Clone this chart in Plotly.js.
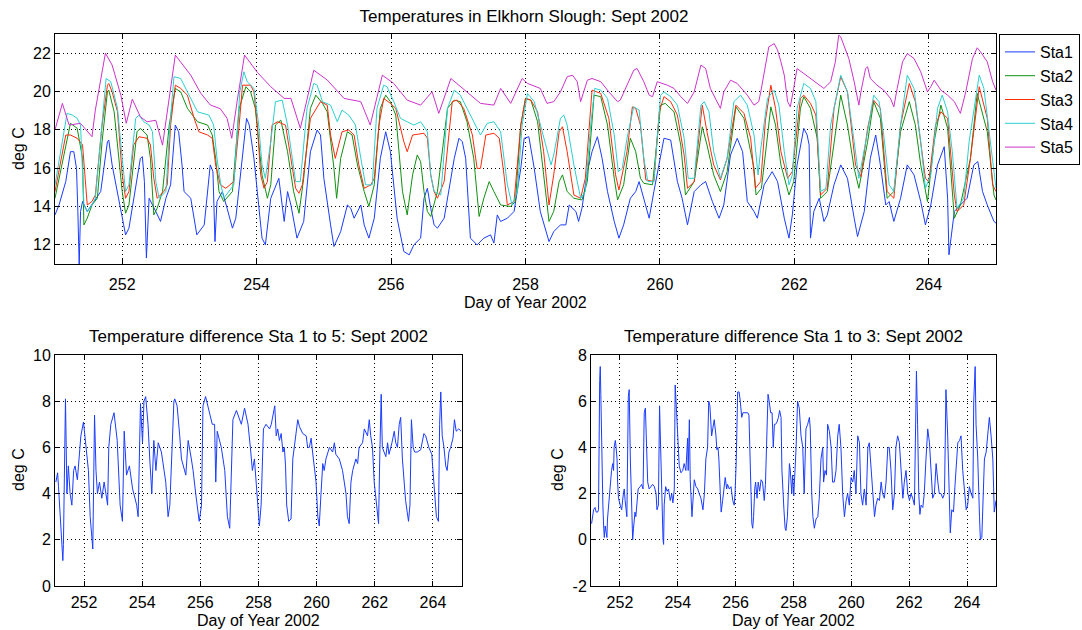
<!DOCTYPE html>
<html>
<head>
<meta charset="utf-8">
<script src="https://cdn.plot.ly/plotly-3.0.1.min.js"></script>
<style>html,body{margin:0;padding:0;background:#fff;}#chart{width:1082px;height:630px;}</style>
</head>
<body>
<div id="chart"></div>
<script>
// ---- Data: [day of year, value] ----
const seriesNames = ["Sta1", "Sta2", "Sta3", "Sta4", "Sta5"];
const seriesColors = ["#1a3cff", "#119011", "#ff2a0a", "#2ccfcf", "#cc33cc"];

const sta1 = [[251.00,13.56],[251.06,14.08],[251.16,15.3],[251.23,16.86],[251.28,16.86],[251.32,15.99],[251.34,13.74],[251.36,10.96],[251.38,13.74],[251.41,14.26],[251.48,13.74],[251.58,14.26],[251.68,14.78],[251.78,17.38],[251.80,17.47],[251.85,16.17],[251.95,14.26],[252.05,12.52],[252.10,12.87],[252.20,15.13],[252.27,16.51],[252.30,16.6],[252.33,15.3],[252.36,11.31],[252.40,14.43],[252.50,13.74],[252.57,13.22],[252.65,14.43],[252.72,15.13],[252.79,18.25],[252.84,17.9],[252.89,16.17],[252.92,14.78],[253.02,14.43],[253.11,12.52],[253.22,13.04],[253.27,14.78],[253.31,16.17],[253.35,15.82],[253.38,12.17],[253.41,14.26],[253.49,14.78],[253.56,13.91],[253.64,12.87],[253.69,13.39],[253.76,15.65],[253.85,18.6],[253.89,18.25],[253.96,16.51],[254.01,14.78],[254.08,12.35],[254.13,12.0],[254.21,14.43],[254.33,15.47],[254.41,13.22],[254.46,14.78],[254.51,14.08],[254.60,12.35],[254.70,13.22],[254.80,16.86],[254.90,17.99],[254.95,17.73],[255.00,15.47],[255.10,13.04],[255.15,11.91],[255.25,12.69],[255.35,14.08],[255.40,13.91],[255.45,13.39],[255.55,14.08],[255.60,13.04],[255.67,12.35],[255.75,13.39],[255.84,16.51],[255.92,17.9],[255.99,16.86],[256.09,13.39],[256.19,11.65],[256.27,11.48],[256.34,12.0],[256.44,12.35],[256.49,14.43],[256.54,14.95],[256.59,13.91],[256.64,13.04],[256.69,12.87],[256.79,13.39],[256.94,16.51],[257.01,17.56],[257.06,17.38],[257.11,16.51],[257.18,12.35],[257.28,12.0],[257.38,12.35],[257.48,12.52],[257.53,12.09],[257.58,13.56],[257.63,13.22],[257.73,13.39],[257.83,13.74],[257.93,15.99],[257.98,17.56],[258.05,17.64],[258.13,15.99],[258.22,13.74],[258.35,12.17],[258.42,12.69],[258.52,13.04],[258.60,13.04],[258.65,14.08],[258.75,13.74],[258.79,13.22],[258.84,13.91],[258.92,15.82],[258.99,16.86],[259.07,17.64],[259.14,16.51],[259.22,14.78],[259.32,13.22],[259.39,12.35],[259.46,13.04],[259.56,14.43],[259.64,14.78],[259.69,15.3],[259.76,14.43],[259.84,13.39],[259.91,14.78],[260.06,17.56],[260.16,17.47],[260.26,15.3],[260.33,14.43],[260.41,13.04],[260.51,14.78],[260.61,15.13],[260.68,15.3],[260.78,14.26],[260.88,13.39],[260.95,14.08],[261.05,16.69],[261.15,17.56],[261.23,16.86],[261.30,14.26],[261.40,13.74],[261.45,13.39],[261.55,15.13],[261.67,15.82],[261.75,15.3],[261.85,13.39],[261.92,12.35],[261.97,13.56],[262.04,16.17],[262.14,18.08],[262.19,17.73],[262.22,17.21],[262.24,12.35],[262.29,13.74],[262.37,14.43],[262.44,13.22],[262.49,13.56],[262.59,15.13],[262.69,16.17],[262.79,15.47],[262.89,13.39],[262.94,12.43],[263.04,13.74],[263.13,16.51],[263.21,17.73],[263.28,16.17],[263.36,14.08],[263.41,14.26],[263.48,13.22],[263.58,14.43],[263.68,16.17],[263.78,15.65],[263.88,14.26],[263.95,13.04],[264.03,14.08],[264.13,16.17],[264.23,17.12],[264.28,14.43],[264.30,11.48],[264.38,13.74],[264.47,14.08],[264.57,14.43],[264.67,16.17],[264.73,16.34],[264.80,14.78],[264.87,14.08],[264.97,13.22],[265.00,13.13]];

const sta2 = [[251.00,14.43],[251.23,18.34],[251.33,18.08],[251.41,16.51],[251.43,13.04],[251.48,13.39],[251.55,14.08],[251.63,14.43],[251.70,17.38],[251.78,19.98],[251.80,20.07],[251.88,18.94],[252.00,14.78],[252.05,13.65],[252.10,14.08],[252.22,17.9],[252.27,18.08],[252.37,17.73],[252.42,16.51],[252.47,13.56],[252.52,13.91],[252.60,14.78],[252.70,18.25],[252.79,20.16],[252.87,19.98],[252.97,19.12],[253.12,18.42],[253.27,18.25],[253.34,17.73],[253.39,16.51],[253.44,14.78],[253.51,14.26],[253.64,14.78],[253.74,19.12],[253.84,20.25],[253.91,19.98],[253.98,19.12],[254.03,17.38],[254.08,15.65],[254.16,14.43],[254.21,15.13],[254.28,18.25],[254.36,18.51],[254.46,16.86],[254.55,14.78],[254.63,13.65],[254.70,15.47],[254.80,19.12],[254.88,19.81],[254.98,19.38],[255.05,18.94],[255.15,15.99],[255.19,14.43],[255.25,16.51],[255.35,17.9],[255.42,17.73],[255.50,16.17],[255.60,14.78],[255.67,14.0],[255.75,15.13],[255.84,19.12],[255.92,19.81],[255.99,19.47],[256.07,18.77],[256.17,14.78],[256.24,13.56],[256.32,15.65],[256.39,16.69],[256.44,16.34],[256.49,14.78],[256.54,13.74],[256.59,13.48],[256.69,14.78],[256.84,19.12],[256.94,19.55],[257.03,19.47],[257.13,18.42],[257.23,16.51],[257.31,13.48],[257.38,14.43],[257.46,15.3],[257.53,14.78],[257.63,14.08],[257.78,14.0],[257.85,14.26],[257.93,18.25],[258.00,19.64],[258.08,19.55],[258.18,18.42],[258.27,15.65],[258.35,13.22],[258.42,13.74],[258.50,15.3],[258.55,15.65],[258.62,14.78],[258.72,14.43],[258.84,14.34],[258.92,15.3],[259.02,19.81],[259.12,19.73],[259.22,18.25],[259.32,15.47],[259.37,14.34],[259.46,15.13],[259.56,17.56],[259.64,16.86],[259.71,15.47],[259.76,15.21],[259.89,15.13],[260.01,19.29],[260.08,19.38],[260.21,18.94],[260.31,17.21],[260.38,14.6],[260.51,15.3],[260.63,18.16],[260.70,17.21],[260.80,15.65],[260.90,14.78],[261.00,15.82],[261.13,19.2],[261.25,18.6],[261.40,15.99],[261.43,14.6],[261.51,14.95],[261.65,19.2],[261.72,18.25],[261.80,16.17],[261.92,14.6],[261.99,15.3],[262.09,19.12],[262.14,19.73],[262.24,19.12],[262.34,17.56],[262.39,14.43],[262.49,14.78],[262.59,17.38],[262.69,19.81],[262.79,18.25],[262.89,15.99],[262.96,14.95],[263.09,17.38],[263.18,19.47],[263.28,18.6],[263.38,14.43],[263.48,14.78],[263.58,17.9],[263.71,19.47],[263.80,18.25],[263.88,16.17],[263.98,14.26],[264.08,17.38],[264.18,19.29],[264.28,18.08],[264.38,13.39],[264.47,14.08],[264.62,16.51],[264.72,19.9],[264.87,17.9],[264.97,14.6],[265.00,14.34]];

const sta3 = [[251.00,14.78],[251.16,17.73],[251.23,17.73],[251.33,17.56],[251.41,17.21],[251.44,15.65],[251.48,14.08],[251.55,14.26],[251.60,14.6],[251.70,18.25],[251.78,20.33],[251.80,20.42],[251.85,19.98],[251.93,18.94],[252.00,15.65],[252.05,14.43],[252.10,14.78],[252.17,17.21],[252.25,17.64],[252.37,17.56],[252.42,17.21],[252.47,15.47],[252.52,14.43],[252.62,14.78],[252.67,15.13],[252.72,18.25],[252.79,20.33],[252.87,20.16],[252.97,19.81],[253.07,18.6],[253.14,17.9],[253.27,17.73],[253.34,17.56],[253.39,16.17],[253.46,15.13],[253.54,14.95],[253.66,15.3],[253.74,18.25],[253.79,20.33],[253.91,20.33],[253.96,19.98],[254.01,18.25],[254.06,15.65],[254.11,14.95],[254.16,15.3],[254.23,18.25],[254.31,18.42],[254.43,18.25],[254.51,16.51],[254.58,14.95],[254.63,14.69],[254.68,15.13],[254.80,18.6],[254.95,19.47],[255.05,19.29],[255.10,17.73],[255.17,16.51],[255.27,17.9],[255.37,17.99],[255.45,17.73],[255.52,16.17],[255.60,14.95],[255.70,15.13],[255.75,15.47],[255.82,18.25],[255.89,19.64],[255.99,19.38],[256.07,19.12],[256.19,17.38],[256.24,16.86],[256.32,17.73],[256.49,17.82],[256.54,17.56],[256.59,15.65],[256.64,14.78],[256.69,14.43],[256.79,15.3],[256.91,19.47],[256.98,19.55],[257.08,19.12],[257.21,17.73],[257.28,15.99],[257.33,15.99],[257.41,17.73],[257.53,17.82],[257.61,17.56],[257.68,15.65],[257.73,14.08],[257.83,14.26],[257.93,18.25],[258.00,19.64],[258.08,19.55],[258.18,18.94],[258.27,16.86],[258.35,14.08],[258.42,15.65],[258.50,17.9],[258.55,18.16],[258.62,16.86],[258.72,14.6],[258.82,14.43],[258.89,15.47],[258.99,20.07],[259.12,19.9],[259.24,18.6],[259.34,15.65],[259.39,14.86],[259.51,16.86],[259.59,19.2],[259.64,19.12],[259.71,18.25],[259.79,15.39],[259.91,15.3],[259.99,18.94],[260.06,19.73],[260.16,19.47],[260.26,18.77],[260.36,16.69],[260.41,14.95],[260.51,15.3],[260.63,19.29],[260.70,17.9],[260.80,16.17],[260.90,15.39],[261.00,16.51],[261.13,19.29],[261.25,18.86],[261.35,17.56],[261.42,14.95],[261.50,15.3],[261.57,18.5],[261.65,20.33],[261.72,19.12],[261.80,16.86],[261.90,15.47],[261.97,15.82],[262.09,19.64],[262.14,19.81],[262.24,19.38],[262.32,18.77],[262.39,14.6],[262.49,14.95],[262.59,19.12],[262.69,20.77],[262.79,19.98],[262.91,16.17],[262.99,15.56],[263.09,18.08],[263.18,19.55],[263.28,19.12],[263.38,14.78],[263.48,14.43],[263.58,18.25],[263.71,20.42],[263.80,19.47],[263.88,17.38],[263.95,15.47],[264.00,15.3],[264.10,18.25],[264.18,18.94],[264.28,18.6],[264.38,14.6],[264.42,13.74],[264.52,14.08],[264.62,16.51],[264.75,20.25],[264.87,18.6],[264.95,15.13],[265.00,14.78]];

const sta4 = [[251.00,15.13],[251.18,18.86],[251.26,18.77],[251.33,18.6],[251.38,18.25],[251.43,14.08],[251.48,13.74],[251.55,14.08],[251.60,14.43],[251.68,17.38],[251.76,20.68],[251.83,20.51],[251.93,19.12],[252.00,16.51],[252.05,14.78],[252.10,15.13],[252.20,18.6],[252.25,18.77],[252.32,18.42],[252.40,18.25],[252.45,17.9],[252.50,15.3],[252.55,14.43],[252.65,14.78],[252.71,18.25],[252.77,20.77],[252.87,20.68],[252.97,19.98],[253.12,18.94],[253.29,18.77],[253.36,18.25],[253.41,16.51],[253.46,15.3],[253.51,14.43],[253.66,15.13],[253.75,19.98],[253.81,21.03],[253.86,20.51],[253.96,20.16],[254.03,18.25],[254.08,16.17],[254.13,15.47],[254.21,17.38],[254.28,19.47],[254.38,19.55],[254.46,18.25],[254.58,15.3],[254.65,15.3],[254.75,19.12],[254.85,20.42],[254.90,20.33],[254.98,19.47],[255.10,19.29],[255.20,18.42],[255.27,19.03],[255.37,18.77],[255.47,18.25],[255.55,16.51],[255.62,15.13],[255.72,15.13],[255.79,19.12],[255.89,20.33],[255.94,20.25],[256.04,19.47],[256.14,18.6],[256.24,18.42],[256.34,18.25],[256.44,18.42],[256.54,17.9],[256.59,15.65],[256.64,14.78],[256.74,14.6],[256.84,19.12],[256.94,20.07],[257.03,19.81],[257.13,19.12],[257.23,18.42],[257.33,17.73],[257.43,18.34],[257.53,18.42],[257.63,17.9],[257.73,15.13],[257.80,14.08],[257.88,14.78],[257.95,18.25],[258.03,19.9],[258.13,19.47],[258.22,18.25],[258.32,16.86],[258.38,16.17],[258.42,16.69],[258.52,18.6],[258.57,18.77],[258.62,18.25],[258.72,16.17],[258.82,14.43],[258.89,14.78],[258.97,18.25],[259.03,20.16],[259.12,20.07],[259.22,19.64],[259.32,17.73],[259.38,15.82],[259.44,15.99],[259.51,17.56],[259.61,19.2],[259.69,19.03],[259.76,16.51],[259.82,15.3],[259.91,15.3],[260.01,19.81],[260.06,19.98],[260.16,19.73],[260.26,19.29],[260.36,17.56],[260.42,15.47],[260.51,15.47],[260.61,19.29],[260.66,19.47],[260.73,18.94],[260.80,16.86],[260.90,15.47],[261.00,16.51],[261.10,19.47],[261.20,19.81],[261.30,19.29],[261.40,17.73],[261.46,15.65],[261.50,17.0],[261.60,19.64],[261.70,20.07],[261.77,19.29],[261.85,16.86],[261.92,15.13],[261.97,15.65],[262.04,19.12],[262.14,20.42],[262.24,20.16],[262.32,19.47],[262.39,14.78],[262.47,14.95],[262.54,18.25],[262.69,20.85],[262.79,19.98],[262.89,17.38],[262.96,15.47],[263.09,17.9],[263.18,19.81],[263.26,19.47],[263.33,17.73],[263.41,15.13],[263.48,14.78],[263.58,18.25],[263.68,20.85],[263.78,20.16],[263.88,17.38],[263.95,14.95],[264.03,15.65],[264.13,19.12],[264.20,19.81],[264.28,18.94],[264.35,16.86],[264.42,13.91],[264.52,14.43],[264.60,17.38],[264.75,20.85],[264.82,20.16],[264.92,17.21],[265.00,14.95]];

const sta5 = [[251.00,18.0],[251.11,19.38],[251.21,18.25],[251.38,18.34],[251.55,17.64],[251.60,19.03],[251.75,22.0],[251.85,21.38],[251.98,19.8],[252.06,18.34],[252.15,19.6],[252.27,18.68],[252.37,18.42],[252.50,18.5],[252.60,17.2],[252.67,18.94],[252.79,21.9],[253.02,20.85],[253.17,19.9],[253.31,19.3],[253.46,19.1],[253.56,18.6],[253.63,17.56],[253.71,19.5],[253.82,21.9],[254.01,21.0],[254.21,20.25],[254.41,19.64],[254.51,19.64],[254.65,18.08],[254.85,21.11],[255.05,20.6],[255.30,19.64],[255.55,19.47],[255.69,18.25],[255.87,20.85],[256.04,20.42],[256.24,19.55],[256.44,19.29],[256.61,19.99],[256.71,18.86],[256.89,20.68],[257.06,20.16],[257.33,19.38],[257.53,19.29],[257.63,20.16],[257.78,19.38],[257.95,20.68],[258.03,20.42],[258.22,20.16],[258.32,19.38],[258.42,19.47],[258.52,19.98],[258.62,20.77],[258.70,20.85],[258.77,20.51],[258.82,19.47],[258.92,20.59],[258.99,20.68],[259.12,20.51],[259.24,19.98],[259.37,19.47],[259.41,19.55],[259.51,20.33],[259.61,21.11],[259.66,21.2],[259.76,20.51],[259.84,19.81],[259.89,19.73],[259.96,20.51],[260.11,20.33],[260.21,20.16],[260.31,19.73],[260.41,19.38],[260.51,19.98],[260.61,21.38],[260.68,21.2],[260.75,20.16],[260.85,19.47],[260.90,19.12],[260.95,19.98],[261.05,20.59],[261.15,20.42],[261.30,19.81],[261.40,19.29],[261.47,19.47],[261.50,19.98],[261.62,22.33],[261.70,22.5],[261.75,22.16],[261.80,21.55],[261.85,20.85],[261.90,19.47],[261.94,19.2],[261.99,20.16],[262.04,21.2],[262.14,20.94],[262.24,20.68],[262.34,20.42],[262.44,20.16],[262.49,20.33],[262.54,20.51],[262.61,21.55],[262.66,22.94],[262.69,22.85],[262.74,22.42],[262.81,21.72],[262.89,20.51],[262.96,19.29],[262.99,19.98],[263.06,21.2],[263.09,21.29],[263.13,20.68],[263.23,20.33],[263.33,20.07],[263.43,19.64],[263.48,19.2],[263.53,20.16],[263.61,21.55],[263.68,21.98],[263.78,21.72],[263.88,21.03],[263.98,19.98],[264.03,20.25],[264.08,20.59],[264.18,20.07],[264.28,19.81],[264.38,19.47],[264.47,18.86],[264.55,19.98],[264.65,21.72],[264.72,22.28],[264.77,22.07],[264.87,21.55],[264.95,20.51],[265.00,20.07]];

const diff15 = [[251.03,4.5],[251.09,4.9],[251.12,4.3],[251.16,3.5],[251.20,2.3],[251.24,1.6],[251.27,1.1],[251.29,1.8],[251.33,7.4],[251.36,8.1],[251.41,4.0],[251.46,5.2],[251.52,4.0],[251.58,3.5],[251.64,5.0],[251.69,5.2],[251.77,4.6],[251.84,5.8],[251.89,6.5],[251.98,7.1],[252.07,6.0],[252.15,5.0],[252.21,3.0],[252.26,2.2],[252.30,1.6],[252.36,7.4],[252.41,5.0],[252.46,4.0],[252.53,4.5],[252.61,3.8],[252.69,4.5],[252.81,3.5],[252.85,6.0],[252.92,7.0],[253.03,7.5],[253.14,6.3],[253.24,3.5],[253.32,2.8],[253.38,6.7],[253.46,4.8],[253.56,5.2],[253.67,4.2],[253.81,3.5],[253.86,3.0],[253.90,5.5],[253.94,7.9],[254.01,6.2],[254.06,8.0],[254.12,8.2],[254.20,7.0],[254.26,5.5],[254.33,4.0],[254.40,6.3],[254.47,5.0],[254.55,6.2],[254.66,5.8],[254.81,4.5],[254.89,3.0],[254.95,3.5],[255.01,5.3],[255.04,6.8],[255.09,8.0],[255.12,8.1],[255.20,7.8],[255.29,6.5],[255.35,5.5],[255.50,4.8],[255.58,6.3],[255.69,5.5],[255.75,5.0],[255.84,4.0],[255.96,2.8],[256.04,3.5],[256.09,7.8],[256.18,8.2],[256.32,7.5],[256.41,7.0],[256.49,7.0],[256.53,4.5],[256.58,6.7],[256.72,6.0],[256.84,5.0],[256.93,3.0],[257.01,2.5],[257.06,5.0],[257.12,7.2],[257.24,7.6],[257.41,7.0],[257.52,7.7],[257.64,7.0],[257.72,6.0],[257.79,5.0],[257.86,5.5],[257.94,4.0],[258.03,2.6],[258.09,3.5],[258.13,5.8],[258.17,6.8],[258.26,7.0],[258.38,6.8],[258.44,7.0],[258.52,7.5],[258.56,7.8],[258.61,6.5],[258.66,6.8],[258.72,6.3],[258.78,6.6],[258.84,5.8],[258.89,6.0],[258.93,5.2],[258.97,3.5],[259.04,2.8],[259.12,2.9],[259.18,5.5],[259.29,6.7],[259.35,7.2],[259.41,6.9],[259.52,6.6],[259.64,6.5],[259.69,6.0],[259.75,6.0],[259.81,6.4],[259.86,5.8],[259.92,5.0],[259.98,4.5],[260.04,3.0],[260.09,2.6],[260.15,4.0],[260.21,5.3],[260.26,5.0],[260.32,5.5],[260.44,6.0],[260.55,5.8],[260.61,6.2],[260.66,5.7],[260.78,5.5],[260.89,5.0],[261.01,4.0],[261.06,3.0],[261.12,2.7],[261.18,4.5],[261.24,5.0],[261.35,5.5],[261.41,5.3],[261.46,6.0],[261.58,6.2],[261.64,6.8],[261.75,6.5],[261.81,7.2],[261.86,6.5],[261.92,6.0],[261.98,4.5],[262.07,3.2],[262.13,2.7],[262.17,5.5],[262.22,8.3],[262.26,6.0],[262.32,5.8],[262.38,5.6],[262.44,6.2],[262.49,5.7],[262.59,6.2],[262.67,6.7],[262.72,6.2],[262.78,6.0],[262.84,7.0],[262.89,7.3],[262.95,5.5],[263.01,4.5],[263.06,3.7],[263.16,2.8],[263.21,3.5],[263.26,7.2],[263.32,6.0],[263.37,5.8],[263.46,5.8],[263.58,5.9],[263.69,6.6],[263.75,6.5],[263.86,6.0],[263.96,5.7],[264.04,4.5],[264.12,3.0],[264.19,2.8],[264.23,7.0],[264.27,8.4],[264.32,6.5],[264.38,6.0],[264.44,5.2],[264.49,5.0],[264.55,5.8],[264.61,6.0],[264.69,6.4],[264.74,7.2],[264.80,6.7],[264.89,6.8],[264.97,6.7]];

const diff13 = [[251.02,0.7],[251.05,0.9],[251.09,1.3],[251.14,1.4],[251.18,1.2],[251.23,1.2],[251.26,1.3],[251.30,6.9],[251.32,7.5],[251.34,6.3],[251.38,3.0],[251.41,1.5],[251.44,0.5],[251.46,0.1],[251.49,0.6],[251.52,0.3],[251.55,0.1],[251.57,0.9],[251.63,2.0],[251.67,2.5],[251.71,3.0],[251.75,3.3],[251.78,3.0],[251.80,4.0],[251.84,4.3],[251.86,4.1],[251.90,3.5],[251.92,2.5],[251.95,1.8],[252.01,1.5],[252.06,1.3],[252.12,2.0],[252.15,2.2],[252.18,1.7],[252.24,1.0],[252.29,6.2],[252.32,6.5],[252.36,3.5],[252.40,1.5],[252.44,0.0],[252.47,0.5],[252.52,1.2],[252.55,1.0],[252.59,1.8],[252.63,2.2],[252.70,2.3],[252.75,2.4],[252.80,2.2],[252.84,5.5],[252.88,5.7],[252.91,4.0],[252.96,2.5],[253.01,2.2],[253.07,2.3],[253.13,2.4],[253.19,2.3],[253.25,2.0],[253.28,1.3],[253.33,1.5],[253.37,5.8],[253.42,3.0],[253.45,1.2],[253.49,0.0],[253.51,-0.2],[253.53,1.5],[253.58,2.3],[253.63,2.1],[253.68,2.2],[253.74,1.7],[253.79,2.0],[253.83,1.6],[253.88,2.2],[253.91,6.7],[253.96,5.5],[254.01,4.5],[254.05,3.2],[254.11,2.9],[254.17,3.0],[254.22,3.3],[254.28,3.0],[254.34,4.4],[254.36,3.0],[254.40,5.2],[254.43,2.6],[254.49,1.0],[254.54,2.0],[254.57,2.6],[254.63,2.3],[254.69,2.2],[254.74,2.0],[254.80,1.8],[254.87,1.3],[254.92,2.0],[254.97,3.5],[255.03,4.0],[255.07,6.0],[255.11,5.8],[255.17,4.5],[255.22,5.0],[255.26,5.2],[255.32,4.5],[255.35,3.9],[255.39,4.0],[255.42,3.5],[255.47,2.0],[255.50,1.2],[255.55,1.7],[255.61,2.3],[255.64,2.7],[255.69,2.2],[255.72,2.4],[255.78,2.2],[255.84,2.3],[255.90,1.7],[255.95,1.5],[255.98,2.0],[256.02,3.4],[256.07,6.4],[256.12,6.4],[256.16,6.0],[256.21,5.3],[256.25,5.5],[256.30,5.5],[256.36,5.5],[256.42,5.5],[256.46,5.4],[256.50,3.0],[256.53,1.8],[256.56,0.7],[256.59,0.5],[256.62,1.0],[256.66,2.2],[256.69,2.5],[256.74,1.8],[256.78,2.5],[256.83,2.1],[256.88,2.6],[256.93,2.5],[256.99,1.7],[257.03,2.4],[257.07,4.0],[257.12,6.3],[257.16,6.0],[257.21,5.5],[257.26,5.5],[257.30,4.0],[257.34,5.0],[257.38,5.0],[257.43,5.1],[257.48,5.3],[257.52,5.6],[257.57,5.3],[257.60,3.0],[257.64,1.7],[257.67,1.3],[257.71,0.5],[257.74,0.4],[257.79,1.0],[257.82,2.0],[257.86,3.3],[257.89,3.0],[257.94,2.0],[257.97,2.8],[258.01,1.9],[258.09,4.0],[258.14,6.0],[258.20,5.7],[258.26,4.5],[258.32,4.0],[258.37,2.0],[258.43,4.8],[258.49,5.0],[258.55,5.3],[258.58,4.8],[258.63,2.0],[258.67,1.0],[258.72,0.5],[258.78,0.9],[258.84,1.0],[258.89,1.8],[258.95,3.5],[259.01,4.0],[259.04,2.5],[259.09,3.0],[259.14,2.8],[259.18,5.0],[259.24,4.7],[259.30,4.0],[259.35,2.5],[259.41,2.5],[259.47,3.0],[259.53,4.5],[259.58,5.0],[259.64,4.0],[259.70,2.0],[259.76,1.0],[259.82,1.7],[259.87,2.0],[259.93,1.5],[259.99,2.7],[260.05,2.5],[260.10,3.0],[260.16,2.0],[260.22,4.5],[260.28,4.2],[260.33,2.0],[260.39,1.5],[260.45,2.2],[260.51,1.5],[260.57,4.0],[260.62,4.2],[260.68,3.0],[260.74,2.0],[260.80,1.0],[260.85,1.5],[260.91,1.8],[260.97,1.7],[261.03,2.5],[261.08,2.0],[261.14,1.8],[261.20,2.5],[261.26,4.0],[261.31,4.0],[261.37,3.0],[261.43,1.3],[261.49,2.0],[261.54,4.0],[261.60,4.5],[261.66,4.2],[261.72,3.2],[261.78,1.8],[261.83,2.5],[261.89,3.0],[261.95,2.0],[262.01,1.7],[262.06,2.0],[262.12,1.8],[262.18,1.5],[262.21,4.0],[262.25,7.3],[262.29,5.0],[262.33,2.0],[262.37,1.1],[262.41,1.5],[262.47,1.4],[262.52,2.0],[262.58,3.5],[262.64,4.8],[262.70,4.2],[262.75,3.0],[262.81,1.8],[262.87,2.0],[262.93,3.3],[262.99,2.5],[263.04,2.0],[263.10,2.0],[263.16,1.8],[263.22,2.0],[263.27,6.5],[263.33,4.5],[263.39,2.0],[263.42,0.3],[263.47,1.3],[263.53,1.2],[263.58,2.3],[263.64,3.5],[263.68,4.2],[263.74,4.3],[263.79,4.5],[263.85,3.0],[263.91,2.0],[263.97,1.3],[264.02,1.5],[264.08,2.3],[264.14,2.0],[264.20,1.8],[264.23,6.0],[264.28,7.5],[264.31,5.0],[264.37,3.5],[264.43,1.0],[264.46,0.0],[264.51,0.1],[264.54,1.0],[264.60,3.5],[264.66,3.8],[264.71,4.5],[264.77,5.3],[264.83,4.5],[264.89,3.5],[264.94,1.2],[265.00,1.7]];

const dayTicks = [252, 254, 256, 258, 260, 262, 264];
const tempTicks = [12, 14, 16, 18, 20, 22];
const diff15Ticks = [0, 2, 4, 6, 8, 10];
const diff13Ticks = [-2, 0, 2, 4, 6, 8];

const mainTitle = "Temperatures in Elkhorn Slough: Sept 2002";
const title15 = "Temperature difference Sta 1 to 5: Sept 2002";
const title13 = "Temperature difference Sta 1 to 3: Sept 2002";
const xLabel = "Day of Year 2002";
const yLabel = "deg C";

// ---- Build traces ----
const FONT = "Liberation Sans, Arial, Helvetica, sans-serif";
const topSeries = [sta1, sta2, sta3, sta4, sta5];
const traces = topSeries.map((s, i) => ({
  type: "scatter", mode: "lines", name: seriesNames[i],
  x: s.map(p => p[0]), y: s.map(p => p[1]),
  line: {color: seriesColors[i], width: 1},
  xaxis: "x", yaxis: "y"
}));
traces.push({
  type: "scatter", mode: "lines", showlegend: false,
  x: diff15.map(p => p[0]), y: diff15.map(p => p[1]),
  line: {color: seriesColors[0], width: 1}, xaxis: "x2", yaxis: "y2"
});
traces.push({
  type: "scatter", mode: "lines", showlegend: false,
  x: diff13.map(p => p[0]), y: diff13.map(p => p[1]),
  line: {color: seriesColors[0], width: 1}, xaxis: "x3", yaxis: "y3"
});

function axis(ticksArr, extra) {
  return Object.assign({
    showline: true, linecolor: "#000", linewidth: 1, mirror: "ticks",
    ticks: "inside", ticklen: 5, tickcolor: "#000", tickwidth: 1,
    showgrid: true, gridcolor: "#000", griddash: "1px,3px", gridwidth: 1,
    zeroline: false, tickfont: {family: FONT, size: 16, color: "#000"},
    tickmode: "array", tickvals: ticksArr, ticktext: ticksArr.map(String),
    automargin: false
  }, extra);
}

const W = 1082, H = 630;
const px = v => v / W, py = v => 1 - v / H;

const layout = {
  width: W, height: H,
  margin: {l: 0, r: 0, t: 0, b: 0},
  paper_bgcolor: "#fff", plot_bgcolor: "#fff",
  font: {family: FONT, size: 16, color: "#000"},
  showlegend: true,
  legend: {
    x: px(999), y: py(34), xanchor: "left", yanchor: "top",
    bordercolor: "#000", borderwidth: 1, bgcolor: "#fff",
    font: {family: FONT, size: 16, color: "#000"},
    itemwidth: 30, tracegroupgap: 0
  },
  xaxis: axis(dayTicks, {domain: [px(55), px(996)], range: [251, 265], anchor: "y", ticklabelstandoff: 6}),
  yaxis: axis(tempTicks, {domain: [py(264), py(34)], range: [11, 23], anchor: "x"}),
  xaxis2: axis(dayTicks, {domain: [px(55), px(462)], range: [251, 265], anchor: "y2", ticklabelstandoff: 2}),
  yaxis2: axis(diff15Ticks, {domain: [py(586), py(355)], range: [0, 10], anchor: "x2"}),
  xaxis3: axis(dayTicks, {domain: [px(591), px(996)], range: [251, 265], anchor: "y3", ticklabelstandoff: 2}),
  yaxis3: axis(diff13Ticks, {domain: [py(586), py(355)], range: [-2, 8], anchor: "x3"}),
  title: {text: mainTitle, font: {family: FONT, size: 17, color: "#000"},
          x: px(524), xanchor: "center", y: py(16), yanchor: "middle", xref: "paper", yref: "container"},
  annotations: [
    {text: xLabel, x: px(525), y: py(302), xref: "paper", yref: "paper", showarrow: false, xanchor: "center", yanchor: "middle", font: {size: 16}},
    {text: yLabel, x: px(18), y: py(149), xref: "paper", yref: "paper", showarrow: false, textangle: -90, xanchor: "center", yanchor: "middle", font: {size: 16}},
    {text: title15, x: px(258.5), y: py(336), xref: "paper", yref: "paper", showarrow: false, xanchor: "center", yanchor: "middle", font: {size: 17}},
    {text: title13, x: px(793.5), y: py(336), xref: "paper", yref: "paper", showarrow: false, xanchor: "center", yanchor: "middle", font: {size: 17}},
    {text: xLabel, x: px(258.5), y: py(620), xref: "paper", yref: "paper", showarrow: false, xanchor: "center", yanchor: "middle", font: {size: 16}},
    {text: xLabel, x: px(793.5), y: py(620), xref: "paper", yref: "paper", showarrow: false, xanchor: "center", yanchor: "middle", font: {size: 16}},
    {text: yLabel, x: px(18), y: py(470), xref: "paper", yref: "paper", showarrow: false, textangle: -90, xanchor: "center", yanchor: "middle", font: {size: 16}},
    {text: yLabel, x: px(557), y: py(470), xref: "paper", yref: "paper", showarrow: false, textangle: -90, xanchor: "center", yanchor: "middle", font: {size: 16}}
  ]
};

Plotly.newPlot("chart", traces, layout, {staticPlot: true, displayModeBar: false});
</script>
</body>
</html>
